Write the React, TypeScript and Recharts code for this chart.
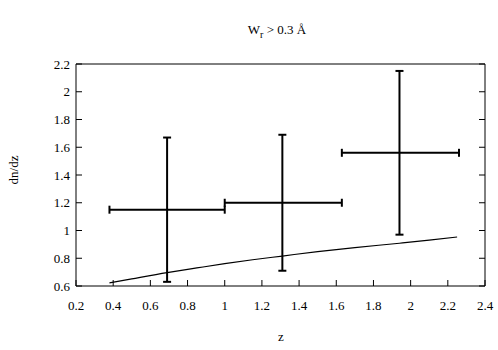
import {
  ComposedChart,
  Customized,
  ErrorBar,
  Line,
  Scatter,
  XAxis,
  YAxis,
} from "recharts";

// binned measurements: centre, bin edges, error bar ends
const zCentres = [0.69, 1.31, 1.94];
const zLow = [0.38, 1.0, 1.63];
const zHigh = [1.0, 1.63, 2.26];
const dndzValues = [1.15, 1.2, 1.56];
const dndzLow = [0.63, 0.71, 0.97];
const dndzHigh = [1.67, 1.69, 2.15];

// model curve
const curveZ = [0.38, 0.5, 0.69, 0.85, 1.0, 1.15, 1.31, 1.5, 1.7, 1.94, 2.1, 2.25];
const curveDndz = [0.622, 0.651, 0.696, 0.73, 0.761, 0.789, 0.816, 0.848, 0.877, 0.908, 0.93, 0.953];

const xTicks = [0.2, 0.4, 0.6, 0.8, 1, 1.2, 1.4, 1.6, 1.8, 2, 2.2, 2.4];
const yTicks = [0.6, 0.8, 1, 1.2, 1.4, 1.6, 1.8, 2, 2.2];

const FONT = "Liberation Serif";
const INK = "#000";
// negative tick size makes the axis draw its tick marks into the plot box (gnuplot style)
const TICK_IN = -6;

const points = zCentres.map((z, i) => ({
  z,
  dndz: dndzValues[i],
  zErr: [z - zLow[i], zHigh[i] - z],
  dndzErr: [dndzValues[i] - dndzLow[i], dndzHigh[i] - dndzValues[i]],
}));

const curve = curveZ.map((z, i) => ({ z, dndz: curveDndz[i] }));

type TickProps = { x?: number; y?: number; payload?: { value: number } };

// label y arrives 6px inside the box, so offsets include the tick length
function BottomLabel({ x = 0, y = 0, payload }: TickProps) {
  return (
    <text x={x} y={y + 30} textAnchor="middle" style={{ fontFamily: FONT, fontSize: 13 }} fill={INK}>
      {payload ? String(payload.value) : ""}
    </text>
  );
}

function LeftLabel({ x = 0, y = 0, payload }: TickProps) {
  return (
    <text x={x - 12} y={y + 4.5} textAnchor="end" style={{ fontFamily: FONT, fontSize: 13 }} fill={INK}>
      {payload ? String(payload.value) : ""}
    </text>
  );
}

function NoLabel() {
  return <g />;
}

function Texts() {
  return (
    <g style={{ fontFamily: FONT }} fill={INK}>
      <text x={277} y={34} textAnchor="middle" fontSize={13}>
        <tspan>W</tspan>
        <tspan dy={4} fontSize={10}>r</tspan>
        <tspan dy={-4}> &gt; 0.3 Å</tspan>
      </text>
      <text x={281} y={341} textAnchor="middle" fontSize={13}>
        z
      </text>
      <text x={18} y={170} textAnchor="middle" fontSize={13} transform="rotate(-90, 18, 170)">
        dn/dz
      </text>
    </g>
  );
}

export default function App() {
  return (
    <div style={{ position: "absolute", left: 0, top: 0, background: "#fff" }}>
      <ComposedChart
        width={498}
        height={350}
        margin={{ top: 63, right: 12, bottom: 0, left: 0 }}
      >
        <XAxis
          xAxisId="bottom"
          dataKey="z"
          type="number"
          domain={[0.2, 2.4]}
          ticks={xTicks}
          interval={0}
          height={64}
          tickSize={TICK_IN}
          tickMargin={0}
          stroke={INK}
          tickLine={{ stroke: INK }}
          tick={(p: TickProps) => <BottomLabel {...p} />}
          allowDataOverflow
        />
        <XAxis
          xAxisId="top"
          orientation="top"
          type="number"
          domain={[0.2, 2.4]}
          ticks={xTicks}
          interval={0}
          height={1}
          tickSize={TICK_IN}
          tickMargin={0}
          stroke={INK}
          tickLine={{ stroke: INK }}
          tick={() => <NoLabel />}
          allowDataOverflow
        />
        <YAxis
          yAxisId="left"
          type="number"
          domain={[0.6, 2.2]}
          ticks={yTicks}
          interval={0}
          width={76}
          tickSize={TICK_IN}
          tickMargin={0}
          stroke={INK}
          tickLine={{ stroke: INK }}
          tick={(p: TickProps) => <LeftLabel {...p} />}
          allowDataOverflow
        />
        <YAxis
          yAxisId="right"
          orientation="right"
          type="number"
          domain={[0.6, 2.2]}
          ticks={yTicks}
          interval={0}
          width={1}
          tickSize={TICK_IN}
          tickMargin={0}
          stroke={INK}
          tickLine={{ stroke: INK }}
          tick={() => <NoLabel />}
          allowDataOverflow
        />
        <Line
          xAxisId="bottom"
          yAxisId="left"
          data={curve}
          dataKey="dndz"
          type="monotone"
          stroke={INK}
          strokeWidth={1.2}
          dot={false}
          activeDot={false}
          isAnimationActive={false}
        />
        <Scatter
          xAxisId="bottom"
          yAxisId="left"
          data={points}
          dataKey="dndz"
          shape={() => <g />}
          isAnimationActive={false}
        >
          <ErrorBar dataKey="zErr" direction="x" width={4} stroke={INK} strokeWidth={2} />
          <ErrorBar dataKey="dndzErr" direction="y" width={4} stroke={INK} strokeWidth={2} />
        </Scatter>
        <Customized component={Texts} />
      </ComposedChart>
    </div>
  );
}
